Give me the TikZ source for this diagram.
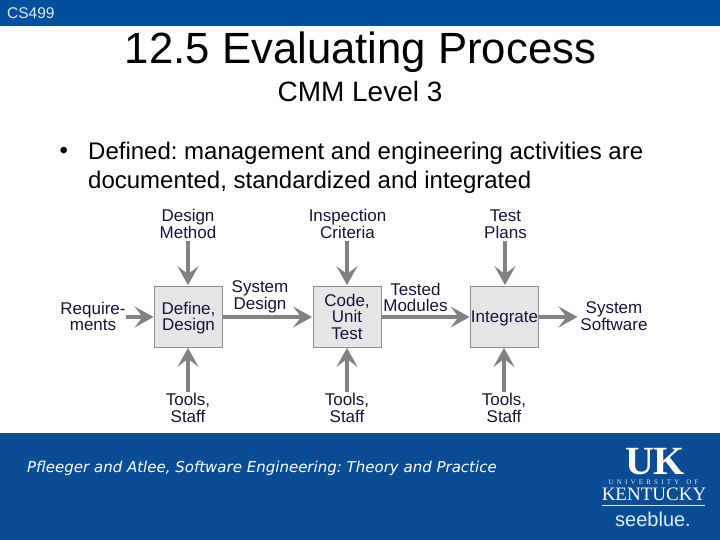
\documentclass[tikz,border=0pt]{standalone}
\usepackage{fontspec}
\setmainfont{Liberation Sans}
\newfontfamily\seriffam{Liberation Serif}
\newfontfamily\verdfam{DejaVu Sans}
\usetikzlibrary{arrows.meta}
\definecolor{barblue}{HTML}{04509C}
\definecolor{footblue}{HTML}{0B4D95}
\definecolor{inkblue}{HTML}{15153A}
\definecolor{boxfill}{HTML}{E6E6E6}
\definecolor{boxline}{HTML}{8E8E8E}
\definecolor{arrowgray}{HTML}{828282}
\definecolor{paleblue}{HTML}{DCEBFA}
\newcommand\topstrut{\rule{0pt}{15.5pt}}
\frenchspacing
\tikzset{
  x=1pt,y=-1pt,
  flowbox/.style={draw=boxline,fill=boxfill,line width=0.8pt,minimum width=68pt,minimum height=61pt,inner sep=0pt,
    align=center,text=inkblue,font=\fontsize{17}{16.5}\selectfont},
  lab/.style={align=center,inner sep=0pt,text=inkblue,font=\fontsize{17}{16.5}\selectfont},
  flow/.style={draw=arrowgray,line width=4.2pt,-{Stealth[length=19pt,width=21pt,inset=8pt,color=arrowgray]},shorten >=0.5pt},
  slidetext/.style={inner sep=0pt,text=black},
}
\begin{document}
\begin{tikzpicture}
\useasboundingbox (0,0) rectangle (720,540);
\fill[white] (0,0) rectangle (720,540);
\fill[barblue] (0,0) rectangle (720,26.5);
\fill[footblue] (0,433) rectangle (720,540);

\node[inner sep=0pt,anchor=west,text=paleblue,font=\fontsize{15.5}{16}\selectfont] (course) at (7,13) {CS499};
\node[slidetext,font=\fontsize{43.7}{44}\selectfont] (title) at (360.5,52) {12.5 Evaluating Process};
\node[slidetext,font=\fontsize{28}{30}\selectfont] (sub) at (360,91) {CMM Level 3};
\node[slidetext,anchor=west,font=\fontsize{24}{28}\selectfont] (bul) at (59.5,153) {•};
\node[slidetext,anchor=north west,align=left,font=\fontsize{24}{29}\selectfont] (body) at (88,142)
  {Defined: management and engineering activities are\\documented, standardized and integrated};

\node[flowbox] (define) at (188.5,316.5) {\topstrut Define,\\Design};
\node[flowbox] (code) at (347,316.5) {Code,\\Unit\\Test};
\node[flowbox] (integ) at (504.5,316.5) {\topstrut Integrate};

\node[lab] (dm) at (188,224) {Design\\Method};
\node[lab] (ic) at (347.5,224) {Inspection\\Criteria};
\node[lab] (tp) at (505.5,224) {Test\\Plans};
\node[lab] (req) at (93,316.5) {Require-\\ments};
\node[lab] (sd) at (260,297) {System\\Design};
\node[lab] (tm) at (415.5,297.5) {Tested\\Modules};
\node[lab] (ss) at (614,316) {System\\Software};
\node[lab] (t1) at (188,408) {Tools,\\Staff};
\node[lab] (t2) at (347,408) {Tools,\\Staff};
\node[lab] (t3) at (504,408) {Tools,\\Staff};

\coordinate (dmS) at (188,241);
\coordinate (icS) at (347,241);
\coordinate (tpS) at (505,241);
\coordinate (reqE) at (126,317);
\coordinate (t1N) at (188,392);
\coordinate (t2N) at (347,392);
\coordinate (t3N) at (504,392);
\coordinate (ssW) at (578,317);

\draw[flow] (dmS) -- (dmS |- define.north);
\draw[flow] (icS) -- (icS |- code.north);
\draw[flow] (tpS) -- (tpS |- integ.north);
\draw[flow] (t1N) -- (t1N |- define.south);
\draw[flow] (t2N) -- (t2N |- code.south);
\draw[flow] (t3N) -- (t3N |- integ.south);
\draw[flow] (reqE) -- (define.west |- reqE);
\draw[flow] (define.east |- reqE) -- (code.west |- reqE);
\draw[flow] (code.east |- reqE) -- (integ.west |- reqE);
\draw[flow] (integ.east |- reqE) -- (ssW);

\node[inner sep=0pt,anchor=west,text=white,font=\verdfam\itshape\fontsize{15}{18}\selectfont] (cite) at (27,468)
  {Pfleeger and Atlee, Software Engineering: Theory and Practice};

\node[inner sep=0pt,text=white,font=\seriffam\bfseries\fontsize{40}{40}\selectfont] (uk) at (655,461.5) {UK};
\node[inner sep=0pt,text=paleblue,font=\seriffam\fontsize{7}{8}\selectfont] (univ) at (653.5,482) {U\hspace{3.2pt}N\hspace{3.2pt}I\hspace{3.2pt}V\hspace{3.2pt}E\hspace{3.2pt}R\hspace{3.2pt}S\hspace{3.2pt}I\hspace{3.2pt}T\hspace{3.2pt}Y\hspace{7pt}O\hspace{3.2pt}F};
\node[inner sep=0pt,text=white,font=\seriffam\fontsize{19}{20}\selectfont] (ky) at (654,494) {KENTUCKY};
\draw[paleblue,line width=0.8pt] (602,505) -- (705,505);
\node[inner sep=0pt,text=paleblue,font=\fontsize{20}{20}\selectfont] (see) at (653,519) {seeblue.};
\end{tikzpicture}
\end{document}
